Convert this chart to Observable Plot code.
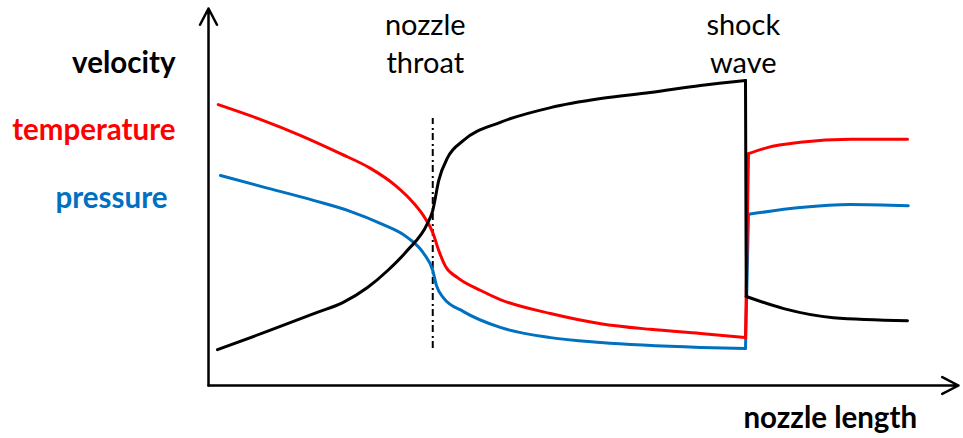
<!DOCTYPE html>
<html><head><meta charset="utf-8">
<script src="https://cdn.jsdelivr.net/npm/d3@7"></script>
<script src="https://cdn.jsdelivr.net/npm/@observablehq/plot@0.6"></script>
<style>body{margin:0;background:#fff} svg{display:block}</style>
</head><body><div id="chart"></div>
<script>
// nozzle position (0..100 along the x axis) and relative values (0..100)
const velocityX = [1.2, 7.9, 14.5, 17.9, 21.2, 23.9, 26.5, 29.2, 29.9, 30.7, 31.9, 34.0, 38.9, 45.6, 52.3, 58.9, 65.6, 71.6, 71.7, 76.7, 83.3, 93.2];
const velocityY = [9.5, 14.4, 19.4, 22.0, 26.0, 30.5, 35.8, 43.0, 46.4, 54.4, 60.5, 65.0, 69.8, 73.7, 76.1, 77.7, 79.6, 80.9, 23.6, 20.4, 18.0, 17.2];
const temperatureX = [1.3, 6.9, 12.3, 17.6, 21.6, 24.9, 27.3, 28.9, 29.9, 30.7, 31.6, 33.2, 36.3, 38.9, 45.6, 52.3, 58.9, 65.6, 71.6, 72.0, 74.5, 78.9, 85.6, 93.2];
const temperatureY = [74.5, 70.6, 66.3, 61.5, 57.6, 53.1, 48.5, 44.3, 40.6, 35.8, 31.6, 28.6, 25.2, 22.8, 19.1, 16.4, 14.9, 13.8, 12.7, 61.5, 63.1, 64.5, 65.3, 65.3];
const pressureX = [1.6, 7.6, 14.0, 18.9, 22.9, 26.5, 28.7, 29.9, 30.4, 31.3, 34.0, 38.9, 45.6, 52.3, 65.6, 71.6, 72.0, 78.9, 85.6, 93.3];
const pressureY = [55.7, 52.5, 49.1, 46.2, 43.0, 39.3, 35.0, 30.5, 26.5, 23.3, 19.6, 15.4, 12.7, 11.4, 10.1, 9.8, 45.4, 47.2, 48.0, 47.7];
const seriesNames = ["pressure", "temperature", "velocity"];
const seriesColors = ["#0070c0", "#ff0000", "#000000"];
const throatX = 29.9;
const shockX = 71.65;
const axisLabel = "nozzle length";
const throatLabel = "nozzle\nthroat";
const shockLabel = "shock\nwave";

const seriesData = {
  velocity: velocityX.map((x, i) => ({x, y: velocityY[i]})),
  temperature: temperatureX.map((x, i) => ({x, y: temperatureY[i]})),
  pressure: pressureX.map((x, i) => ({x, y: pressureY[i]}))
};

const font = "Lato, 'Open Sans', sans-serif";
const marks = [];
// axes with arrows
marks.push(Plot.arrow([{x1: 0, y1: 0, x2: 0, y2: 100}, {x1: 0, y1: 0, x2: 100, y2: 0}],
  {x1: "x1", y1: "y1", x2: "x2", y2: "y2", stroke: "#000", strokeWidth: 2.5, headLength: 11, headAngle: 55}));
// nozzle throat dash-dot line
marks.push(Plot.ruleX([throatX], {y1: 9.8, y2: 70.8, stroke: "#000", strokeWidth: 2, strokeDasharray: "7,3,2,4"}));

seriesNames.forEach((name, k) => {
  const pts = seriesData[name];
  const pre = pts.filter(d => d.x < shockX);
  const post = pts.filter(d => d.x >= shockX);
  const jump = [pre[pre.length - 1], post[0]];
  const opts = {x: "x", y: "y", stroke: seriesColors[k], strokeWidth: 3, curve: "monotone-x"};
  marks.push(Plot.line(pre, opts));
  marks.push(Plot.line(jump, {...opts, curve: "linear"}));
  marks.push(Plot.line(post, opts));
});

// left labels
const labelStyle = {fontFamily: font, fontWeight: "bold", fontSize: 29.5, lineAnchor: "bottom", textAnchor: "end"};
marks.push(Plot.text(["velocity"], {x: 0, y: 83.0, dx: -33, fill: "#000", ...labelStyle}));
marks.push(Plot.text(["temperature"], {x: 0, y: 65.0, dx: -33, fill: "#ff0000", ...labelStyle}));
marks.push(Plot.text(["pressure"], {x: 0, y: 47.2, dx: -41, fill: "#0070c0", ...labelStyle}));
// annotations
const annStyle = {fontFamily: font, fontSize: 29, lineAnchor: "bottom", lineHeight: 1.31, fill: "#000", textAnchor: "middle"};
marks.push(Plot.text([throatLabel], {x: 28.9, y: 83.0, ...annStyle}));
marks.push(Plot.text([shockLabel], {x: 71.3, y: 83.0, ...annStyle}));
marks.push(Plot.text([axisLabel], {x: 82.9, y: -11.4, fontFamily: font, fontWeight: "bold", fontSize: 29.5, lineAnchor: "bottom", fill: "#000", textAnchor: "middle"}));

const chart = Plot.plot({
  width: 963,
  height: 438,
  marginLeft: 208,
  marginRight: 5,
  marginTop: 8,
  marginBottom: 53,
  x: {domain: [0, 100], axis: null},
  y: {domain: [0, 100], axis: null},
  style: {background: "#fff", overflow: "visible"},
  marks
});
document.getElementById("chart").appendChild(chart);
</script>
</body></html>
